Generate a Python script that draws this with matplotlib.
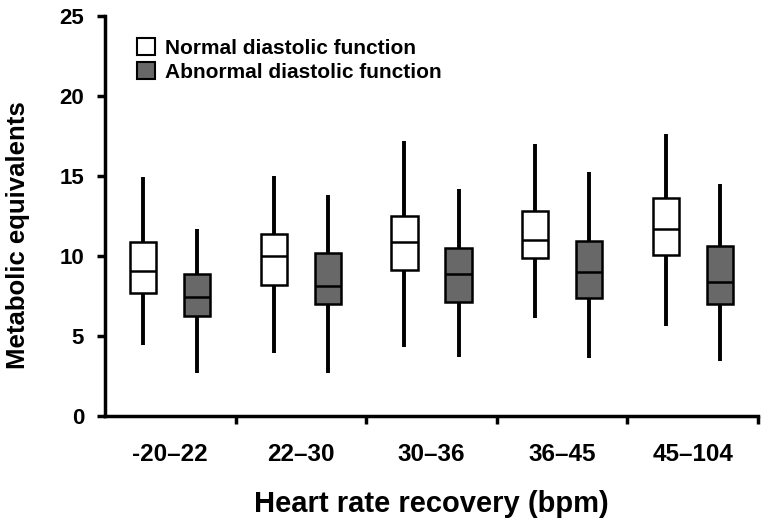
import matplotlib
matplotlib.use("Agg")
import matplotlib.pyplot as plt
from matplotlib.patches import Patch
import numpy as np

plt.rcParams['font.family'] = ['Liberation Sans', 'DejaVu Sans']
plt.rcParams['font.weight'] = 'bold'

groups = ['-20\u201322', '22\u201330', '30\u201336', '36\u201345', '45\u2013104']

# normal diastolic function
norm_lo = [4.4, 3.9, 4.3, 6.1, 5.6]
norm_q1 = [7.7, 8.2, 9.1, 9.85, 10.05]
norm_med = [9.05, 10.0, 10.85, 11.0, 11.7]
norm_q3 = [10.85, 11.35, 12.5, 12.8, 13.6]
norm_hi = [14.9, 15.0, 17.2, 17.0, 17.6]

# abnormal diastolic function
abn_lo = [2.7, 2.7, 3.7, 3.6, 3.4]
abn_q1 = [6.25, 7.0, 7.1, 7.35, 7.0]
abn_med = [7.45, 8.1, 8.85, 9.0, 8.35]
abn_q3 = [8.85, 10.15, 10.5, 10.95, 10.6]
abn_hi = [11.7, 13.8, 14.2, 15.25, 14.5]


def stats(lo, q1, med, q3, hi):
    return [dict(whislo=a, q1=b, med=c, q3=d, whishi=e, fliers=[])
            for a, b, c, d, e in zip(lo, q1, med, q3, hi)]


fig = plt.figure(figsize=(7.66, 5.24), dpi=100)
ax = fig.add_axes([0.137, 0.2067, 0.8526, 0.7628])

centers = np.arange(len(groups)) + 0.5
off = 0.207
w = 0.2

for st, pos, fc in [(stats(norm_lo, norm_q1, norm_med, norm_q3, norm_hi), centers - off, 'white'),
                    (stats(abn_lo, abn_q1, abn_med, abn_q3, abn_hi), centers + off, '#686868')]:
    ax.bxp(st, positions=pos, widths=w, showcaps=False, showfliers=False,
           patch_artist=True,
           boxprops=dict(facecolor=fc, edgecolor='black', linewidth=1.8, zorder=3),
           medianprops=dict(color='black', linewidth=1.8, zorder=4),
           whiskerprops=dict(color='black', linewidth=2.8, solid_capstyle='butt', zorder=2))

ax.set_xlim(0, 5)
ax.set_ylim(0, 25)
ax.set_yticks([0, 5, 10, 15, 20, 25])
ax.set_xticks(np.arange(1, 6))
ax.set_xticklabels([])
ax.set_xticks(centers, minor=True)
ax.set_xticklabels(groups, minor=True)
ax.tick_params(axis='x', which='minor', length=0, pad=20, labelsize=17.5)
ax.tick_params(axis='x', which='major', length=6, width=2.5, direction='out')
ax.tick_params(axis='y', length=6, width=2.5, labelsize=16, pad=9)

for s in ['top', 'right']:
    ax.spines[s].set_visible(False)
for s in ['left', 'bottom']:
    ax.spines[s].set_linewidth(2.5)

ax.set_ylabel('Metabolic equivalents', fontsize=18.5, fontweight='bold')
ax.yaxis.set_label_coords(-0.115, 0.452)
ax.set_xlabel('Heart rate recovery (bpm)', fontsize=21, fontweight='bold', labelpad=17)

handles = [Patch(facecolor='white', edgecolor='black', linewidth=1.5, label='Normal diastolic function'),
           Patch(facecolor='#686868', edgecolor='black', linewidth=1.5, label='Abnormal diastolic function')]
ax.legend(handles=handles, loc='upper left', bbox_to_anchor=(0.049, 0.945), frameon=False,
          borderpad=0, borderaxespad=0,
          handlelength=0.87, handleheight=0.87, handletextpad=0.48, labelspacing=0.22,
          prop={'size': 15, 'weight': 'bold'})

fig.savefig('out.png', dpi=100)
